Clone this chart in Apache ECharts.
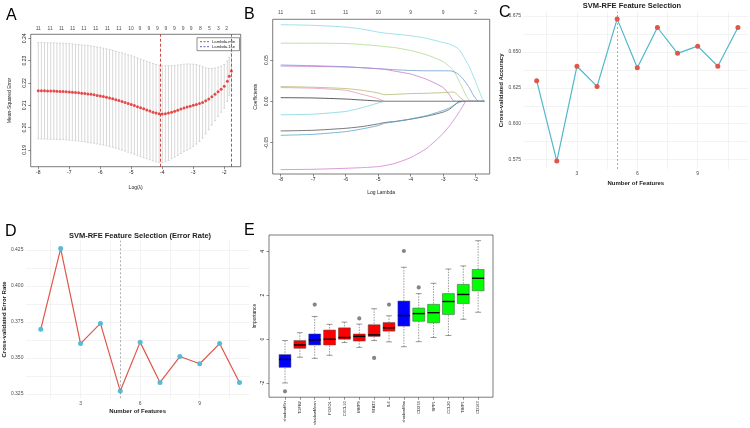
<!DOCTYPE html>
<html>
<head>
<meta charset="utf-8">
<script src="https://cdn.jsdelivr.net/npm/echarts@6/dist/echarts.min.js"></script>
<style>
  html, body { margin: 0; padding: 0; background: #fff; }
  #chart { width: 750px; height: 428px; }
</style>
</head>
<body>
<div id="chart"></div>
<script>
// ---- A: cv.glmnet curve ----
const logLambdaA = [-8.0,-7.9,-7.8,-7.7,-7.6,-7.5,-7.4,-7.3,-7.2,-7.1,-7.0,-6.9,-6.8,-6.7,-6.6,-6.5,-6.4,-6.3,-6.2,-6.1,
  -6.0,-5.9,-5.8,-5.7,-5.6,-5.5,-5.4,-5.3,-5.2,-5.1,-5.0,-4.9,-4.8,-4.7,-4.6,-4.5,-4.4,-4.3,-4.2,-4.1,
  -4.0,-3.9,-3.8,-3.7,-3.6,-3.5,-3.4,-3.3,-3.2,-3.1,-3.0,-2.9,-2.8,-2.7,-2.6,-2.5,-2.4,-2.3,-2.2,-2.1,
  -2.0,-1.9,-1.84,-1.77];
const mseA = [.2165,.2165,.2165,.2164,.2164,.2164,.2163,.2162,.2162,.2161,.2160,.2159,.2157,.2156,.2154,.2153,.2151,.2149,.2147,.2144,
  .2142,.2139,.2136,.2133,.2129,.2125,.2121,.2117,.2113,.2108,.2104,.2099,.2094,.2089,.2084,.2079,.2074,.2069,.2065,.2062,
  .2061,.2062,.2065,.2069,.2073,.2078,.2083,.2088,.2092,.2096,.2100,.2104,.2108,.2113,.2120,.2128,.2138,.2149,.2161,.2172,
  .2185,.2208,.2230,.2254];
const seA = [.0216,.0216,.0216,.0216,.0216,.0216,.0216,.0216,.0216,.0216,.0216,.0216,.0216,.0216,.0216,.0216,.0217,.0217,.0217,.0217,
  .0217,.0217,.0217,.0217,.0217,.0217,.0217,.0218,.0218,.0218,.0218,.0218,.0218,.0218,.0218,.0218,.0218,.0218,.0218,.0218,
  .0218,.0215,.0212,.0208,.0205,.0202,.0199,.0196,.0193,.0189,.0184,.0178,.0170,.0160,.0148,.0137,.0127,.0118,.0110,.0103,
  .0098,.0090,.0085,.0080];
const lambdaMinA = -4.06;
const lambda1seA = -1.76;
const topXA = [-8.00,-7.62,-7.25,-6.89,-6.53,-6.15,-5.77,-5.40,-5.01,-4.72,-4.43,-4.16,-3.88,-3.61,-3.33,-3.07,-2.77,-2.48,-2.19,-1.92];
const topNA = [11,11,11,11,11,11,11,11,10,9,9,9,9,9,9,9,8,5,3,2];

// ---- B: coefficient paths ----
const knotsB = [-8,-7,-6,-5.5,-5,-4.8,-4.5,-4,-3.5,-3,-2.8,-2.7,-2.6,-2.5,-2.4,-2.3,-2.2,-2.1,-2.0,-1.9,-1.8,-1.74];
const pathsB = [
  [.0928,.0920,.0899,.0875,.0838,.0826,.0814,.0794,.0761,.0712,.0692,.0672,.0655,.0623,.0562,.0492,.0419,.0330,.0236,.0134,.0033,0],
  [.0704,.0704,.0700,.0688,.0672,.0663,.0651,.0615,.0562,.0480,.0419,.0379,.0317,.0236,.0155,.0073,.0012,0,0,0,0,0],
  [.0440,.0431,.0419,.0407,.0395,.0391,.0383,.0374,.0370,.0370,.0370,.0362,.0346,.0317,.0277,.0224,.0167,.0094,.0033,0,0,0],
  [.0427,.0423,.0415,.0407,.0395,.0387,.0366,.0330,.0265,.0167,.0073,.0012,0,0,0,0,0,0,0,0,0,0],
  [.0179,.0171,.0155,.0134,.0102,.0081,.0085,.0094,.0098,.0106,.0110,.0114,.0094,.0053,.0020,0,0,0,0,0,0,0],
  [.0167,.0159,.0134,.0085,.0033,0,0,0,0,0,0,0,0,0,0,0,0,0,0,0,0,0],
  [.0045,.0041,.0028,.0016,.0004,0,0,0,0,0,0,0,0,0,0,0,0,0,0,0,0,0],
  [-.0163,-.0155,-.0122,-.0077,-.0020,0,0,0,0,0,0,0,0,0,0,0,0,0,0,0,0,0],
  [-.0358,-.0350,-.0326,-.0305,-.0273,-.0256,-.0244,-.0216,-.0179,-.0130,-.0094,-.0061,-.0028,0,0,0,0,0,0,0,0,0],
  [-.0411,-.0399,-.0366,-.0334,-.0293,-.0265,-.0248,-.0212,-.0171,-.0110,-.0077,-.0053,-.0028,-.0012,0,0,0,0,0,0,0,0],
  [-.0826,-.0822,-.0810,-.0802,-.0790,-.0777,-.0753,-.0680,-.0566,-.0387,-.0293,-.0240,-.0183,-.0122,-.0061,0,0,0,0,0,0,0]
];
const colorsB = ['#86d9e3','#a9d98f','#6b9bd1','#c77bcf','#b3b86e','#e597b5','#333333','#7fd3e0','#555555','#5aa5c9','#cf7fd0'];
const topXB = [-8,-7,-6,-5,-4,-3,-2];
const topNB = [11,11,11,10,9,9,2];

// ---- C / D: SVM-RFE ----
const nFeatures = [1,2,3,4,5,6,7,8,9,10,11];
const accuracyC = [0.630,0.574,0.640,0.626,0.673,0.639,0.667,0.649,0.654,0.640,0.667];
const errorD = [0.370,0.426,0.360,0.374,0.327,0.361,0.333,0.351,0.346,0.360,0.333];
const bestN = 5;

// ---- E: Boruta importance ----
const featE = ['shadowMin','TGFB2','shadowMean','FOXO1','CXCL10','MMP9','STAT3','IL6','shadowMax','CD274','SPP1','CCL20','TIMP1','CD163'];
const groupE = ['shadow','rejected','shadow','rejected','rejected','rejected','rejected','rejected','shadow','confirmed','confirmed','confirmed','confirmed','confirmed'];
const lowE  = [-2.00,-0.83,-0.88,-0.74,-0.16,-0.38,-0.07,-0.13,-0.35,-0.12,0.07,0.16,0.90,1.22];
const q1E   = [-1.29,-0.42,-0.27,-0.27,-0.01,-0.09,0.12,0.36,0.59,0.81,0.74,1.12,1.62,2.20];
const medE  = [-0.93,-0.27,-0.04,-0.01,0.07,0.12,0.19,0.51,1.07,1.16,1.20,1.71,2.03,2.77];
const q3E   = [-0.71,-0.07,0.23,0.41,0.51,0.23,0.65,0.75,1.73,1.41,1.58,2.07,2.49,3.17];
const highE = [-0.07,0.29,1.03,0.67,0.77,0.68,1.38,1.06,3.27,2.07,2.54,3.19,3.33,4.48];
const outXE = [1,3,6,7,8,9,10];
const outYE = [-2.38,1.57,0.94,-0.86,1.57,4.01,2.35];
const groupColor = { shadow: '#0000ff', rejected: '#ff0000', confirmed: '#00ff00' };

const chart = echarts.init(document.getElementById('chart'));
const rFont = 'Liberation Sans';

function rAxis(grid, min, max, ticks, fmt, name, gap, isY) {
  return {
    type: 'value', gridIndex: grid, min, max,
    axisLine: { show: false, onZero: false }, splitLine: { show: false },
    axisTick: { show: true, length: 2.5, lineStyle: { color: '#444', width: 0.6 }, customValues: ticks },
    axisLabel: { customValues: ticks, fontSize: 5, color: '#222', margin: 3.5, fontFamily: rFont,
      formatter: fmt, rotate: isY ? 90 : 0 },
    name, nameLocation: 'middle', nameGap: gap,
    nameTextStyle: { fontSize: 5, color: '#222', fontFamily: rFont }
  };
}
function ggAxis(grid, min, max, major, all, fmt, name, gap) {
  return {
    type: 'value', gridIndex: grid, min, max,
    axisLine: { show: false, onZero: false },
    axisTick: { show: false, customValues: all },
    splitLine: { show: true, lineStyle: { color: '#ebebeb', width: 0.6 } },
    axisLabel: { customValues: major, fontSize: 5, color: '#4d4d4d', margin: 2.5, fontFamily: rFont, formatter: fmt },
    name, nameLocation: 'middle', nameGap: gap,
    nameTextStyle: { fontSize: 6, fontWeight: 'bold', color: '#222', fontFamily: rFont }
  };
}
const f2 = v => v.toFixed(2);
const f3 = v => v.toFixed(3);
const fInt = v => String(v);
const rGrid = { show: true, borderColor: '#444', borderWidth: 0.7, backgroundColor: 'transparent' };
const boxTicks = featE.map((f, i) => i + 1);

const xE = rAxis(4, -0.077, 15.0, boxTicks, v => featE[v - 1], '', 10, false);
xE.axisLabel.fontSize = 4;
xE.axisLabel.rotate = 90;
xE.axisLabel.margin = 4;

const option = {
  animation: false,
  backgroundColor: '#fff',
  textStyle: { fontFamily: rFont },
  grid: [
    Object.assign({ left: 30.7, top: 34.3, width: 210, height: 132.4 }, rGrid),
    Object.assign({ left: 272.7, top: 19.3, width: 217, height: 154.7 }, rGrid),
    { left: 523.6, top: 11.7, width: 224.4, height: 157.3 },
    { left: 25, top: 240.6, width: 224.4, height: 157.7 },
    Object.assign({ left: 269, top: 235, width: 224, height: 170 }, rGrid)
  ],
  xAxis: [
    rAxis(0, -8.245, -1.47, [-8,-7,-6,-5,-4,-3,-2], fInt, 'Log(\u03bb)', 18, false),
    rAxis(1, -8.246, -1.57, [-8,-7,-6,-5,-4,-3,-2], fInt, 'Log Lambda', 16, false),
    ggAxis(2, 0.35, 11.5, [3,6,9], [1.5,3,4.5,6,7.5,9,10.5], fInt, 'Number of Features', 11),
    ggAxis(3, 0.25, 11.5, [3,6,9], [1.5,3,4.5,6,7.5,9,10.5], fInt, 'Number of Features', 10.5),
    xE
  ],
  yAxis: [
    rAxis(0, 0.1825, 0.2418, [0.19,0.20,0.21,0.22,0.23,0.24], f2, 'Mean-Squared Error', 19, true),
    rAxis(1, -0.0879, 0.0993, [-0.05,0,0.05], f2, 'Coefficients', 15, true),
    ggAxis(2, 0.5685, 0.678, [0.575,0.6,0.625,0.65,0.675], [0.575,0.5875,0.6,0.6125,0.625,0.6375,0.65,0.6625,0.675], f3, 'Cross-validated Accuracy', 16),
    ggAxis(3, 0.322, 0.4315, [0.325,0.35,0.375,0.4,0.425], [0.325,0.3375,0.35,0.3625,0.375,0.3875,0.4,0.4125,0.425], f3, 'Cross-validated Error Rate', 15),
    rAxis(4, -2.65, 4.74, [-2,0,2,4], fInt, 'Importance', 12, true)
  ],
  series: [
    // A: error bars
    {
      type: 'custom', xAxisIndex: 0, yAxisIndex: 0,
      data: mseA.map((m, i) => [logLambdaA[i], m - seA[i], m + seA[i]]),
      encode: { x: 0, y: [1, 2] },
      renderItem: (params, api) => {
        const lo = api.coord([api.value(0), api.value(1)]);
        const hi = api.coord([api.value(0), api.value(2)]);
        const st = { stroke: '#bdbdbd', lineWidth: 0.6 };
        return { type: 'group', children: [
          { type: 'line', shape: { x1: lo[0], y1: lo[1], x2: hi[0], y2: hi[1] }, style: st },
          { type: 'line', shape: { x1: lo[0] - 1, y1: lo[1], x2: lo[0] + 1, y2: lo[1] }, style: st },
          { type: 'line', shape: { x1: hi[0] - 1, y1: hi[1], x2: hi[0] + 1, y2: hi[1] }, style: st }
        ] };
      }
    },
    // A: mean CV error
    {
      type: 'scatter', xAxisIndex: 0, yAxisIndex: 0, symbolSize: 3,
      itemStyle: { color: '#e32222' },
      data: mseA.map((m, i) => [logLambdaA[i], m]),
      markLine: {
        silent: true, symbol: ['none', 'none'], label: { show: false },
        data: [
          { xAxis: lambdaMinA, lineStyle: { color: '#c8322e', type: [3, 2], width: 0.9 } },
          { xAxis: lambda1seA, lineStyle: { color: '#4a55c0', type: [3, 2], width: 0.9 } }
        ]
      }
    },
    // A: number of nonzero coefficients
    {
      type: 'scatter', xAxisIndex: 0, yAxisIndex: 0, symbolSize: 0, clip: false,
      data: topXA.map((x, i) => [x, 0.2418, topNA[i]]),
      label: { show: true, position: 'top', distance: 3, fontSize: 5, color: '#222', formatter: p => p.value[2] }
    },
    // B: coefficient paths
    ...pathsB.map((p, k) => ({
      type: 'line', xAxisIndex: 1, yAxisIndex: 1, symbol: 'none', smooth: 0.2,
      lineStyle: { color: colorsB[k], width: 0.8 },
      data: knotsB.map((x, i) => [x, p[i]])
    })),
    {
      type: 'scatter', xAxisIndex: 1, yAxisIndex: 1, symbolSize: 0, clip: false,
      data: topXB.map((x, i) => [x, 0.0993, topNB[i]]),
      label: { show: true, position: 'top', distance: 4, fontSize: 5, color: '#222', formatter: p => p.value[2] }
    },
    // C
    {
      type: 'line', xAxisIndex: 2, yAxisIndex: 2, symbol: 'circle', symbolSize: 5,
      lineStyle: { color: '#4fb8c9', width: 1.2 }, itemStyle: { color: '#e0564a' },
      data: nFeatures.map((n, i) => [n, accuracyC[i]]),
      markLine: { silent: true, symbol: ['none', 'none'], label: { show: false },
        lineStyle: { color: '#8a8a8a', type: [2, 2], width: 0.7 }, data: [{ xAxis: bestN }] }
    },
    // D
    {
      type: 'line', xAxisIndex: 3, yAxisIndex: 3, symbol: 'circle', symbolSize: 5,
      lineStyle: { color: '#e0564a', width: 1.2 }, itemStyle: { color: '#55bcd4' },
      data: nFeatures.map((n, i) => [n, errorD[i]]),
      markLine: { silent: true, symbol: ['none', 'none'], label: { show: false },
        lineStyle: { color: '#8a8a8a', type: [2, 2], width: 0.7 }, data: [{ xAxis: bestN }] }
    },
    // E: boxes
    {
      type: 'custom', xAxisIndex: 4, yAxisIndex: 4,
      data: featE.map((f, i) => [i + 1, lowE[i], q1E[i], medE[i], q3E[i], highE[i]]),
      encode: { x: 0, y: [1, 2, 3, 4, 5] },
      renderItem: (params, api) => {
        const x = api.value(0);
        const half = api.size([0.8, 0])[0] / 2;
        const cap = half / 2;
        const pL = api.coord([x, api.value(1)]);
        const p1 = api.coord([x, api.value(2)]);
        const pM = api.coord([x, api.value(3)]);
        const p3 = api.coord([x, api.value(4)]);
        const pH = api.coord([x, api.value(5)]);
        const fill = groupColor[groupE[params.dataIndex]];
        const wst = { stroke: '#555', lineWidth: 0.6, lineDash: [1.5, 1.2] };
        const cst = { stroke: '#555', lineWidth: 0.6 };
        return { type: 'group', children: [
          { type: 'line', shape: { x1: pL[0], y1: pL[1], x2: pL[0], y2: p1[1] }, style: wst },
          { type: 'line', shape: { x1: pH[0], y1: pH[1], x2: pH[0], y2: p3[1] }, style: wst },
          { type: 'line', shape: { x1: pL[0] - cap, y1: pL[1], x2: pL[0] + cap, y2: pL[1] }, style: cst },
          { type: 'line', shape: { x1: pH[0] - cap, y1: pH[1], x2: pH[0] + cap, y2: pH[1] }, style: cst },
          { type: 'rect', shape: { x: p3[0] - half, y: p3[1], width: half * 2, height: p1[1] - p3[1] },
            style: { fill, stroke: '#444', lineWidth: 0.5 } },
          { type: 'line', shape: { x1: pM[0] - half, y1: pM[1], x2: pM[0] + half, y2: pM[1] },
            style: { stroke: '#000', lineWidth: 1.4 } }
        ] };
      }
    },
    {
      type: 'scatter', xAxisIndex: 4, yAxisIndex: 4, symbol: 'emptyCircle', symbolSize: 2.2,
      itemStyle: { color: '#666', borderWidth: 0.6 },
      data: outXE.map((x, i) => [x, outYE[i]])
    }
  ],
  graphic: [
    { type: 'text', x: 6, y: 8, style: { text: 'A', fontSize: 16, fontFamily: rFont, fill: '#000' } },
    { type: 'text', x: 244, y: 7, style: { text: 'B', fontSize: 16, fontFamily: rFont, fill: '#000' } },
    { type: 'text', x: 499, y: 5, style: { text: 'C', fontSize: 16, fontFamily: rFont, fill: '#000' } },
    { type: 'text', x: 5, y: 224, style: { text: 'D', fontSize: 16, fontFamily: rFont, fill: '#000' } },
    { type: 'text', x: 244, y: 223, style: { text: 'E', fontSize: 16, fontFamily: rFont, fill: '#000' } },
    { type: 'text', x: 632, y: 5.5, style: { text: 'SVM-RFE Feature Selection', align: 'center', verticalAlign: 'middle',
      fontSize: 7.5, fontWeight: 'bold', fontFamily: rFont, fill: '#222' } },
    { type: 'text', x: 140, y: 235.8, style: { text: 'SVM-RFE Feature Selection (Error Rate)', align: 'center', verticalAlign: 'middle',
      fontSize: 7.5, fontWeight: 'bold', fontFamily: rFont, fill: '#222' } },
    { type: 'group', x: 197, y: 37.7, children: [
      { type: 'rect', shape: { x: 0, y: 0, width: 42.5, height: 13 }, style: { fill: '#fff', stroke: '#444', lineWidth: 0.6 } },
      { type: 'line', shape: { x1: 3, y1: 4, x2: 12, y2: 4 }, style: { stroke: '#c8322e', lineWidth: 0.9, lineDash: [2, 1.5] } },
      { type: 'text', x: 15, y: 4, style: { text: 'Lambda.min', fontSize: 4.2, verticalAlign: 'middle', fontFamily: rFont, fill: '#222' } },
      { type: 'line', shape: { x1: 3, y1: 9, x2: 12, y2: 9 }, style: { stroke: '#4a55c0', lineWidth: 0.9, lineDash: [2, 1.5] } },
      { type: 'text', x: 15, y: 9, style: { text: 'Lambda.1se', fontSize: 4.2, verticalAlign: 'middle', fontFamily: rFont, fill: '#222' } }
    ] }
  ]
};

chart.setOption(option);
</script>
</body>
</html>
